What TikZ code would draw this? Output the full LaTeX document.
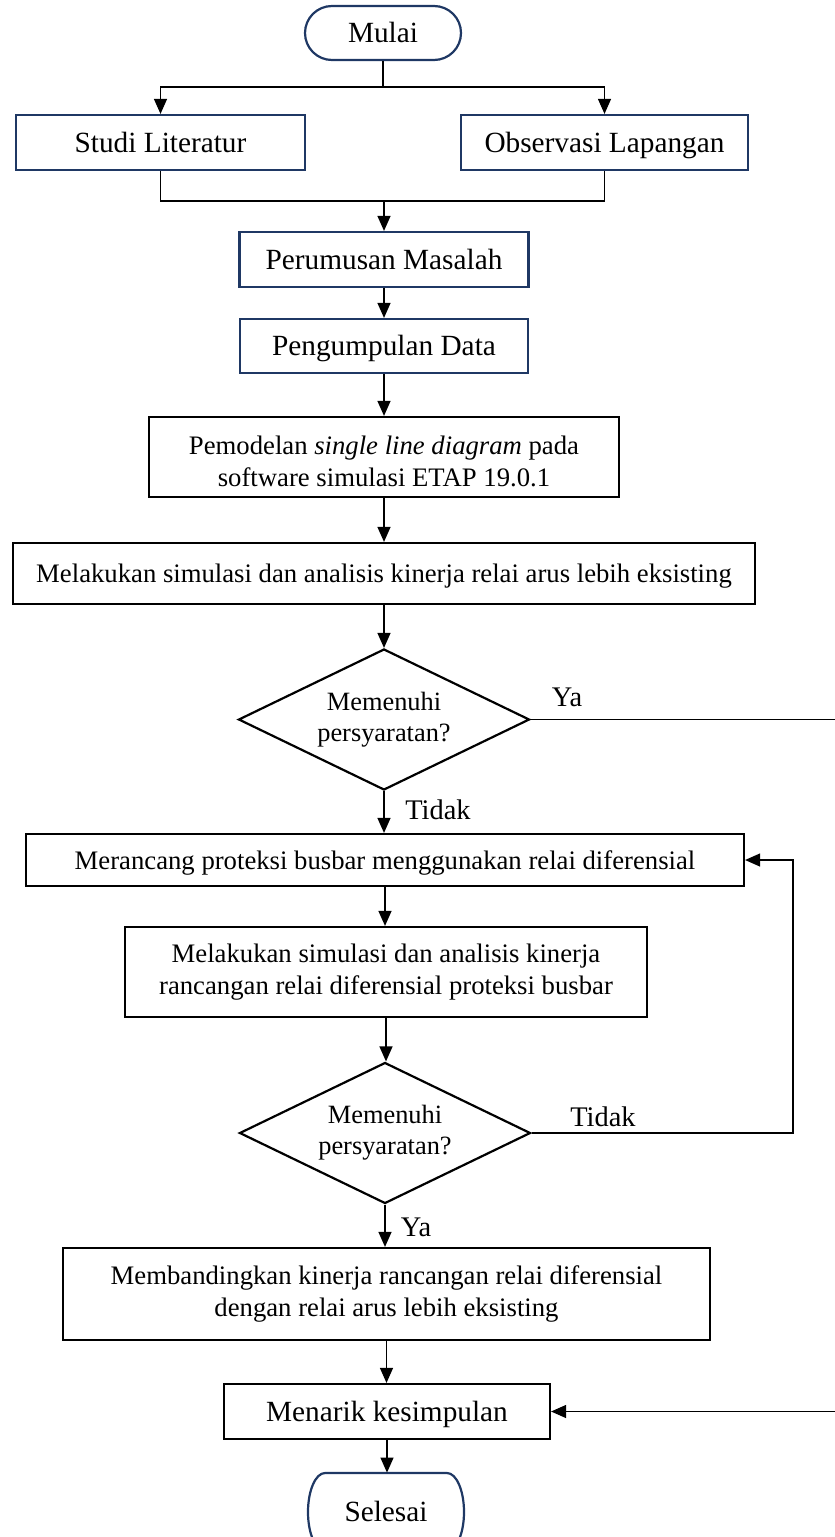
\documentclass[tikz,border=0pt]{standalone}
\usepackage{fontspec}
\setmainfont{Liberation Serif}
\usetikzlibrary{shapes.geometric,arrows.meta}
\definecolor{navy}{RGB}{31,56,100}
\begin{document}
\begin{tikzpicture}[x=0.5pt,y=-0.5pt,
  bigfont/.style={font=\fontsize{14.65}{16}\selectfont},
  smallfont/.style={font=\fontsize{13.35}{16}\selectfont},
  bigline/.style={text height=9.9pt,text depth=0pt},
  smallline/.style={text height=9pt,text depth=0pt},
  bluebox/.style={draw=navy,line width=1.1pt,inner sep=0pt,align=center,bigfont,bigline},
  blackbox/.style={draw=black,line width=1.1pt,inner sep=0pt,align=center,smallfont},
  decision/.style={diamond,aspect=2.07,draw=black,line width=1.1pt,inner sep=0pt,align=center,
    minimum width=145.5pt,minimum height=70.5pt,font=\fontsize{13.2}{15.5}\selectfont},
  lbl/.style={font=\fontsize{14.2}{16}\selectfont,inner sep=0pt},
  conn/.style={line width=0.6pt,draw=black},
  arr/.style={conn,-{Triangle[length=7.5pt,width=6.5pt]}},
]
\useasboundingbox (0,0) rectangle (835,1537);
\clip (0,0) rectangle (835,1537);

% nodes
\node[bluebox,rounded corners=13.5pt,minimum width=78pt,minimum height=27pt] (mulai) at (383,33) {Mulai};
\node[bluebox,minimum width=144.5pt,minimum height=27.5pt] (studi) at (160.5,142.5) {Studi Literatur};
\node[bluebox,minimum width=143.5pt,minimum height=27.5pt] (obs) at (604.5,142.5) {Observasi Lapangan};
\node[bluebox,minimum width=144.5pt,minimum height=27.5pt] (perum) at (384,259.5) {Perumusan Masalah};
\node[bluebox,minimum width=144pt,minimum height=27pt] (pengum) at (384,346) {Pengumpulan Data};
\node[blackbox,minimum width=235pt,minimum height=40pt] (model) at (384,457) {\rule{0pt}{14pt}Pemodelan \textit{single line diagram} pada\\software simulasi ETAP 19.0.1};
\node[blackbox,smallline,minimum width=371pt,minimum height=30.5pt] (sim1) at (384,573.5) {Melakukan simulasi dan analisis kinerja relai arus lebih eksisting};
\node[decision] (dec1) at (384,719.5) {Memenuhi\\persyaratan?};
\node[blackbox,smallline,minimum width=359pt,minimum height=26pt] (ranc) at (385,860) {Merancang proteksi busbar menggunakan relai diferensial};
\node[blackbox,minimum width=261pt,minimum height=45pt] (sim2) at (386,972) {Melakukan simulasi dan analisis kinerja\\rancangan relai diferensial proteksi busbar};
\node[decision] (dec2) at (385,1133) {Memenuhi\\persyaratan?};
\node[blackbox,minimum width=323.5pt,minimum height=46pt] (band) at (386.5,1294) {Membandingkan kinerja rancangan relai diferensial\\dengan relai arus lebih eksisting};
\node[blackbox,bigfont,bigline,minimum width=163pt,minimum height=27.5pt] (menarik) at (387,1411.5) {Menarik kesimpulan};
\node[inner sep=0pt,bigfont,bigline,minimum width=78pt,minimum height=39pt] (selesai) at (386,1512) {Selesai};
\draw[navy,line width=1.1pt] (325,1473) arc[start angle=90,end angle=270,x radius=8.5pt,y radius=19.5pt]
  -- (447,1551) arc[start angle=-90,end angle=90,x radius=8.5pt,y radius=19.5pt] -- cycle;

% labels
\node[lbl] (ya1) at (567,697) {Ya};
\node[lbl] (tidak1) at (438,810) {Tidak};
\node[lbl] (tidak2) at (603,1117) {Tidak};
\node[lbl] (ya2) at (416,1227) {Ya};

% connectors
\coordinate (fork) at (383,87);
\draw[conn] (mulai.south) -- (fork);
\draw[arr] (fork) -| (studi.north);
\draw[arr] (fork) -| (obs.north);
\coordinate (join) at (384,201);
\draw[conn] (studi.south) |- (join) -| (obs.south);
\draw[arr] (join) -- (perum.north);
\draw[arr] (perum.south) -- (perum.south |- pengum.north);
\draw[arr] (pengum.south) -- (pengum.south |- model.north);
\draw[arr] (model.south) -- (model.south |- sim1.north);
\draw[arr] (sim1.south) -- (dec1.north);
\draw[arr] (dec1.south) -- (dec1.south |- ranc.north);
\draw[arr] (ranc.south) -- (ranc.south |- sim2.north);
\draw[arr] (sim2.south) -- (sim2.south |- dec2.north);
\draw[arr] (dec2.south) -- (dec2.south |- band.north);
\draw[arr] (band.south) -- (band.south |- menarik.north);
\draw[arr] (menarik.south) -- (menarik.south |- selesai.north);

\coordinate (r1) at (850,719.5);
\coordinate (r2) at (850,1411.5);
\draw[arr] (dec1.east) -- (r1) -- (r2) -- (menarik.east);
\coordinate (l1) at (793,1133);
\coordinate (l2) at (793,860);
\draw[arr] (dec2.east) -- (l1) -- (l2) -- (ranc.east);
\end{tikzpicture}
\end{document}
